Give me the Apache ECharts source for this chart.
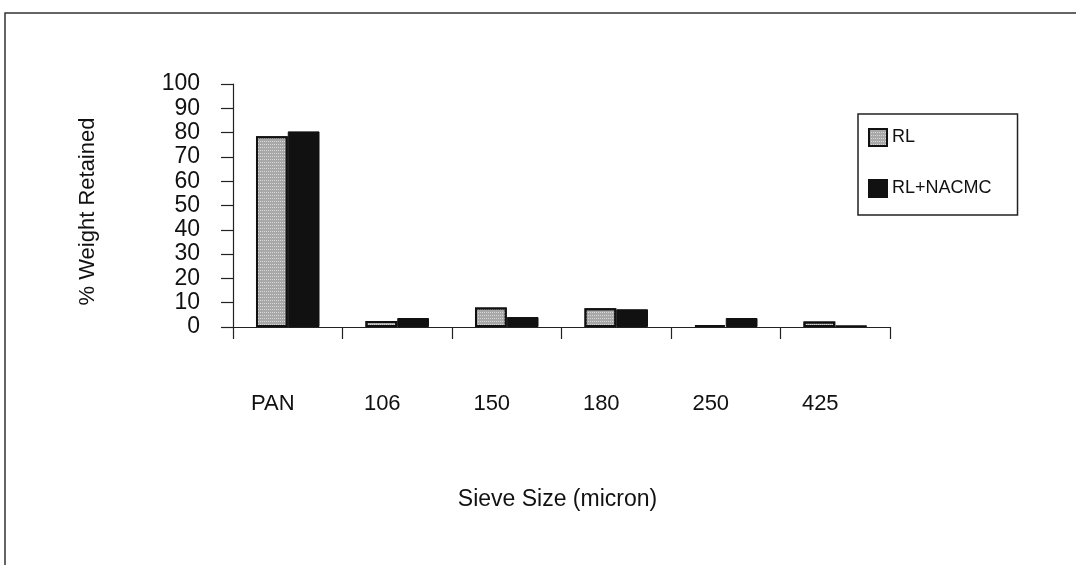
<!DOCTYPE html>
<html>
<head>
<meta charset="utf-8">
<script src="https://cdn.jsdelivr.net/npm/echarts@6/dist/echarts.min.js"></script>
<style>
html,body{margin:0;padding:0;background:#fff;}
#chart{width:1076px;height:565px;}
</style>
</head>
<body>
<div id="chart"></div>
<script>
const categories = ['PAN', '106', '150', '180', '250', '425'];
const seriesNames = ['RL', 'RL+NACMC'];
const rlValues = [78.5, 2.5, 8.0, 7.7, 0.8, 2.3];
const rlNacmcValues = [80.5, 3.7, 4.1, 7.3, 3.7, 0.7];
const yTicks = [0, 10, 20, 30, 40, 50, 60, 70, 80, 90, 100];

const chart = echarts.init(document.getElementById('chart'), null, {renderer: 'canvas'});
const font = 'Liberation Sans, Arial, sans-serif';
const option = {
  backgroundColor: '#ffffff',
  animation: false,
  graphic: [
    {type: 'polyline', silent: true, shape: {points: [[5, 565], [5, 13], [1076, 13]]},
     style: {stroke: '#333', lineWidth: 1.5, fill: null}}
  ],
  legend: {
    orient: 'vertical',
    left: 858, top: 114,
    padding: [14, 26, 17, 10],
    itemGap: 32,
    itemWidth: 18, itemHeight: 17,
    borderColor: '#222', borderWidth: 1.5,
    icon: 'rect',
    textStyle: {fontFamily: font, fontSize: 18, color: '#111'},
    data: seriesNames
  },
  grid: {left: 233, top: 84, width: 657, height: 243, containLabel: false},
  xAxis: {
    type: 'category',
    data: categories,
    name: 'Sieve Size (micron)',
    nameLocation: 'middle',
    nameGap: 161,
    nameTextStyle: {fontFamily: font, fontSize: 23, color: '#111', padding: [0, 8, 0, 0]},
    axisLine: {lineStyle: {color: '#222', width: 1.2}},
    axisTick: {show: true, length: 12, lineStyle: {color: '#222', width: 1.2}},
    axisLabel: {margin: 66, fontFamily: font, fontSize: 22, color: '#111', padding: [0, 30, 0, 0]}
  },
  yAxis: {
    type: 'value',
    min: 0, max: 100, interval: 10,
    name: '% Weight Retained',
    nameLocation: 'middle',
    nameGap: 134,
    nameRotate: 90,
    nameTextStyle: {fontFamily: font, fontSize: 22, color: '#111', padding: [0, 12, 0, 0]},
    splitLine: {show: false},
    axisLine: {show: true, lineStyle: {color: '#222', width: 1.2}},
    axisTick: {show: true, length: 12, lineStyle: {color: '#222', width: 1.2}},
    axisLabel: {margin: 33, fontFamily: font, fontSize: 23, color: '#111',
      formatter: function (v) { return yTicks.indexOf(v) >= 0 ? String(v) : ''; }}
  },
  series: [
    {
      name: seriesNames[0], type: 'bar', data: rlValues,
      barWidth: '29%', barGap: '0%',
      itemStyle: {
        color: '#a8a8a8', borderColor: '#111', borderWidth: 2,
        decal: {symbol: 'rect', symbolSize: 1, color: 'rgba(255,255,255,0.55)',
                dashArrayX: [1, 1], dashArrayY: [1, 2], rotation: 0}
      }
    },
    {
      name: seriesNames[1], type: 'bar', data: rlNacmcValues,
      barWidth: '29%', barGap: '0%',
      itemStyle: {color: '#111111', borderColor: '#111', borderWidth: 1}
    }
  ]
};
chart.setOption(option);
</script>
</body>
</html>
